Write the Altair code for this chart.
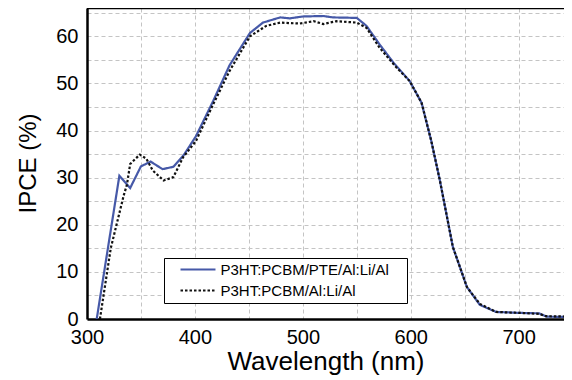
import altair as alt
import pandas as pd

series_names = ["P3HT:PCBM/PTE/Al:Li/Al", "P3HT:PCBM/Al:Li/Al"]

solid_wl = [309, 330, 340, 350, 359, 370, 380, 390, 401, 417, 432, 451, 463, 479, 488,
            500, 519, 528, 550, 559, 571, 584, 599, 610, 619, 627, 639, 652, 664, 679,
            700, 719, 726, 750]
solid_ipce = [0, 30.4, 27.8, 32.4, 33.4, 31.8, 32.3, 34.9, 38.8, 46.3, 53.8, 60.7, 62.9, 64.0, 63.8,
              64.2, 64.3, 64.0, 63.9, 62.2, 58.3, 54.4, 50.5, 45.9, 37.8, 29.4, 15.3, 6.8, 3.0, 1.5,
              1.3, 1.2, 0.5, 0.4]

dotted_wl = [312, 322, 334, 337, 340, 349, 355, 361, 371, 380, 389, 401, 417, 432, 451,
             466, 479, 497, 510, 519, 531, 550, 559, 571, 587, 599, 610, 619, 627, 639,
             652, 664, 679, 700, 719, 725, 750]
dotted_ipce = [0, 15.0, 26.2, 28.5, 32.9, 34.9, 34.0, 31.5, 29.4, 30.1, 34.3, 37.8, 45.6, 52.6, 60.0,
               62.2, 62.9, 62.7, 63.2, 62.6, 63.2, 62.9, 61.8, 57.6, 53.3, 50.5, 45.9, 37.8, 29.4, 15.3,
               6.8, 3.2, 1.5, 1.3, 1.1, 0.6, 0.5]

df = pd.concat([
    pd.DataFrame({"wl": solid_wl, "ipce": solid_ipce, "series": series_names[0], "k": 0}),
    pd.DataFrame({"wl": dotted_wl, "ipce": dotted_ipce, "series": series_names[1], "k": 1}),
])

FONT = "Liberation Sans"
GRID = dict(gridColor="#c4c4c4", gridDash=[4, 3], gridWidth=1)

legend = alt.Legend(
    title="\u00a0", titleOrient="right", titlePadding=14, titleFontSize=4,
    orient="none", legendX=77, legendY=250, direction="vertical",
    fillColor="white", strokeColor="black", padding=4, cornerRadius=0,
    symbolType="M-5.83,0H5.83", symbolSize=36, symbolStrokeWidth=1.8,
    symbolOffset=22.5, labelOffset=15,
    labelFontSize=15, labelFont=FONT, labelColor="black", labelLimit=400,
    rowPadding=5,
)

x_enc = alt.X("wl:Q", scale=alt.Scale(domain=[300, 742], nice=False, zero=False),
              axis=alt.Axis(values=list(range(300, 741, 50)),
                            labelExpr="datum.value % 100 == 0 ? datum.label : ''",
                            title="Wavelength (nm)", titleFontSize=26, titleFont=FONT,
                            titleFontWeight="normal", titleColor="black",
                            titleY=50, titleBaseline="alphabetic",
                            labelFontSize=20, labelFont=FONT, labelColor="black",
                            labelPadding=8, tickSize=0, ticks=False,
                            domain=True, domainColor="black", domainWidth=2.5,
                            labelFlush=False, labelOverlap=False, **GRID))
y_enc = alt.Y("ipce:Q", scale=alt.Scale(domain=[0, 66], nice=False),
              axis=alt.Axis(values=list(range(0, 66, 5)),
                            labelExpr="datum.value % 10 == 0 ? datum.label : ''",
                            title="IPCE (%)", titleFontSize=24, titleFont=FONT,
                            titleFontWeight="normal", titleColor="black",
                            titleX=-59, titleY=155, titleAngle=270,
                            titleAlign="center", titleBaseline="middle",
                            labelFontSize=20, labelFont=FONT, labelColor="black",
                            labelPadding=9, tickSize=0, ticks=False,
                            domain=True, domainColor="black", domainWidth=2.5,
                            labelFlush=False, labelOverlap=False, **GRID))

lines = alt.Chart(df).mark_line(strokeWidth=2.2, clip=True).encode(
    x=x_enc,
    y=y_enc,
    color=alt.Color("series:N", scale=alt.Scale(domain=series_names, range=["#4659a8", "#111111"]),
                    legend=legend),
    strokeDash=alt.StrokeDash("series:N", scale=alt.Scale(domain=series_names, range=[[1, 0], [2.5, 2]]),
                              legend=legend),
    order=alt.Order("k:Q"),
)

top_frame = alt.Chart(alt.Data(values=[{}])).mark_rule(color="black", strokeWidth=2.5).encode(
    y=alt.value(0)
)

chart = alt.layer(lines, top_frame).properties(
    width=477, height=311,
    autosize=alt.AutoSizeParams(type="none"),
    padding={"left": 79, "top": 0, "right": 0, "bottom": 60},
    background="white",
).configure_view(stroke=None)

chart.save("out.html", embed_options={"renderer": "svg", "actions": False})
